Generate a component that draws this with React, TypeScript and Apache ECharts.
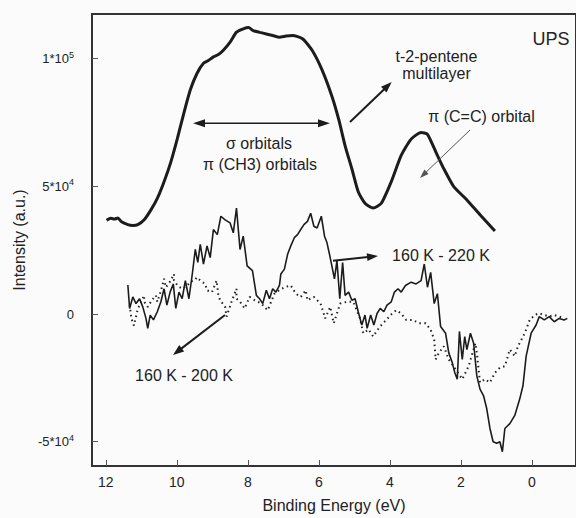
import React, { useEffect, useRef } from "react";
import * as echarts from "echarts";

// t-2-pentene multilayer (thick curve)
const multilayerE = [11.98, 11.86, 11.75, 11.66, 11.56, 11.38, 11.24, 11.10, 10.92, 10.73, 10.55, 10.36, 10.17, 9.99, 9.80, 9.62, 9.43, 9.25, 9.11, 8.97, 8.83, 8.69, 8.50, 8.32, 8.13, 7.98, 7.85, 7.66, 7.48, 7.30, 7.11, 6.92, 6.74, 6.46, 6.19, 5.91, 5.63, 5.44, 5.26, 5.07, 4.89, 4.70, 4.47, 4.24, 3.96, 3.68, 3.40, 3.12, 2.94, 2.66, 2.48, 2.20, 1.83, 1.46, 1.04];
const multilayerI = [36700, 37500, 37200, 37600, 36100, 35000, 34700, 35000, 36900, 40800, 45300, 51800, 59500, 68500, 78800, 87800, 94300, 98200, 99300, 100700, 101600, 103300, 106500, 110400, 111700, 112200, 111000, 110300, 109700, 109100, 108400, 108900, 109100, 107800, 103300, 95600, 85200, 76200, 65900, 56900, 47900, 43400, 41500, 43400, 51800, 62100, 68500, 71100, 70400, 62100, 56900, 49900, 44700, 38900, 32500];

// 160 K - 220 K difference (thin solid curve)
const diff220E = [11.38, 11.33, 11.24, 11.15, 11.05, 10.96, 10.87, 10.82, 10.75, 10.66, 10.55, 10.45, 10.36, 10.28, 10.19, 10.10, 10.03, 9.94, 9.85, 9.76, 9.66, 9.57, 9.48, 9.41, 9.34, 9.25, 9.15, 9.06, 8.97, 8.86, 8.76, 8.64, 8.50, 8.41, 8.32, 8.22, 8.13, 8.02, 7.87, 7.76, 7.67, 7.58, 7.48, 7.39, 7.30, 7.21, 7.11, 7.07, 6.97, 6.88, 6.79, 6.69, 6.60, 6.51, 6.42, 6.32, 6.23, 6.14, 6.05, 5.93, 5.84, 5.77, 5.68, 5.56, 5.49, 5.41, 5.33, 5.26, 5.16, 5.07, 4.98, 4.89, 4.79, 4.70, 4.64, 4.54, 4.45, 4.36, 4.27, 4.17, 4.08, 3.96, 3.87, 3.77, 3.68, 3.56, 3.40, 3.26, 3.12, 3.03, 2.94, 2.85, 2.75, 2.66, 2.57, 2.43, 2.34, 2.24, 2.17, 2.10, 2.04, 1.96, 1.89, 1.83, 1.73, 1.64, 1.55, 1.46, 1.36, 1.27, 1.18, 1.09, 0.99, 0.90, 0.83, 0.76, 0.62, 0.48, 0.34, 0.25, 0.16, 0.02, -0.12, -0.21, -0.35, -0.49, -0.63, -0.77, -0.91, -1.00];
const diff220I = [11400, 2200, 6700, 4100, 6000, 2800, -1700, -5600, -400, -2300, 900, 4800, 9900, 3500, 8600, 11800, 2200, 8600, 6000, 13100, 6000, 15100, 25300, 20200, 27300, 19600, 26700, 22100, 33100, 31100, 38300, 36900, 35700, 31800, 41500, 25300, 30500, 18900, 17000, 7300, 6000, 4100, 9300, 6000, 9900, 8600, 11200, 15700, 17600, 23400, 26700, 29900, 31100, 33100, 35000, 36300, 39500, 34400, 33700, 38300, 30500, 27900, 22100, 13800, 20900, 6000, 20200, 7300, 8600, 5400, 6000, 900, -4300, -400, -5600, -400, -4300, 200, 2200, 900, 3500, 4800, 8600, 9900, 8600, 11200, 12500, 11800, 13100, 19600, 10500, 16300, 4100, 8000, -4900, -7500, -15200, -19100, -23000, -25500, -6800, -17800, -8800, -13900, -7500, -11400, -24200, -29400, -32000, -37100, -44800, -50000, -50600, -50000, -53900, -44800, -42900, -39700, -33200, -28100, -16500, -7500, -4300, -1000, -2300, -1000, -3000, -1700, -2300, -1700];

// 160 K - 200 K difference (dotted curve)
const diff200E = [11.33, 11.28, 11.21, 11.10, 10.92, 10.92, 10.82, 10.70, 10.59, 10.55, 10.45, 10.36, 10.31, 10.20, 10.08, 10.08, 9.97, 9.85, 9.71, 9.60, 9.52, 9.43, 9.34, 9.20, 9.15, 9.01, 8.88, 8.83, 8.78, 8.64, 8.60, 8.46, 8.32, 8.32, 8.22, 8.09, 7.95, 7.81, 7.62, 7.44, 7.25, 7.10, 6.97, 6.79, 6.65, 6.51, 6.37, 6.32, 6.14, 5.95, 5.82, 5.68, 5.58, 5.40, 5.21, 5.03, 4.84, 4.75, 4.60, 4.47, 4.28, 4.10, 3.95, 3.82, 3.68, 3.54, 3.36, 3.17, 2.99, 2.85, 2.75, 2.71, 2.62, 2.48, 2.34, 2.15, 1.96, 1.78, 1.59, 1.55, 1.46, 1.32, 1.18, 1.04, 0.90, 0.76, 0.62, 0.48, 0.39, 0.20, 0.06, -0.08, -0.20, -0.35, -0.50, -0.63, -0.77, -0.91];
const diff200I = [3600, -1700, -4500, 2000, 7300, 4800, 2800, 5500, 7300, 4800, 9000, 13800, 10500, 12500, 15700, 13100, 11000, 9900, 11200, 12800, 13100, 14400, 13100, 11800, 9300, 8600, 13100, 7300, 5400, 2800, -1000, 4800, 9900, 6000, 4800, 2200, 6700, 5400, 4100, 1500, 8000, 9500, 10500, 11200, 8000, 6700, 9300, 5400, 6700, 4100, -1700, 2800, -3600, 4100, 4800, 4800, -1700, -7500, -6000, -8800, -4900, -2300, 0, 1500, 200, -2300, -2300, -3600, -3600, -6200, -10000, -17800, -15200, -12600, -17800, -21600, -25500, -20400, -11400, -15200, -26800, -25500, -26800, -23000, -21000, -20400, -13900, -16500, -12600, -7500, -2300, -400, 300, -400, -900, -400, -1000, -1700];

const yTicks: Record<string, string> = {
  "100000": "1*10{s|5}",
  "50000": "5*10{s|4}",
  "0": "0",
  "-50000": "-5*10{s|4}",
};

const FONT = '"Liberation Sans", Arial, Helvetica, sans-serif';
const INK = "#1c1c1c";

function zip(a: number[], b: number[]) {
  return a.map((v, i) => [v, b[i]]);
}

function arrow(x1: number, y1: number, x2: number, y2: number, w: number, color: string, hl: number, hw: number) {
  const dx = x2 - x1, dy = y2 - y1;
  const L = Math.hypot(dx, dy);
  const ux = dx / L, uy = dy / L;
  const bx = x2 - ux * hl, by = y2 - uy * hl;
  const px = -uy, py = ux;
  return [
    { type: "line", silent: true, z: 100, shape: { x1, y1, x2: bx + ux * 1, y2: by + uy * 1 }, style: { stroke: color, lineWidth: w } },
    {
      type: "polygon", silent: true, z: 100,
      shape: { points: [[x2, y2], [bx + (px * hw) / 2, by + (py * hw) / 2], [bx - (px * hw) / 2, by - (py * hw) / 2]] },
      style: { fill: color },
    },
  ];
}

function label(text: string, x: number, y: number, size: number) {
  return {
    type: "text", silent: true, z: 100,
    style: { text, x, y, textAlign: "center", textVerticalAlign: "middle", font: `${size}px ${FONT}`, fill: "#222" },
  };
}

export default function App() {
  const ref = useRef<HTMLDivElement>(null);
  useEffect(() => {
    if (!ref.current) return;
    const chart = echarts.init(ref.current, undefined, { renderer: "svg" });
    const dbl = [
      ...arrow(262, 123.3, 193, 123.3, 1.6, INK, 12, 8),
      ...arrow(262, 123.3, 330, 123.3, 1.6, INK, 12, 8),
    ];
    chart.setOption({
      animation: false,
      backgroundColor: "#fbfbfb",
      textStyle: { fontFamily: FONT },
      grid: { left: 92, top: 14, width: 490, height: 458, show: true, borderColor: "#333", borderWidth: 2, backgroundColor: "transparent" },
      xAxis: {
        type: "value", inverse: true, min: -1.244, max: 12.39,
        minInterval: 2, maxInterval: 2,
        name: "Binding Energy (eV)", nameLocation: "middle", nameGap: 31,
        nameTextStyle: { fontSize: 16, color: "#222", fontFamily: FONT },
        axisLine: { show: true, onZero: false, lineStyle: { color: "#333", width: 2 } },
        axisTick: { show: true, inside: true, length: 6, lineStyle: { color: "#555", width: 1 } },
        axisLabel: {
          fontSize: 14, color: "#222", margin: 9, showMinLabel: false, showMaxLabel: false,
          formatter: (v: number) => (Math.abs(v / 2 - Math.round(v / 2)) < 1e-6 ? String(Math.round(v)) : ""),
        },
        splitLine: { show: false },
      },
      yAxis: {
        type: "value", min: -59500, max: 117500,
        minInterval: 50000, maxInterval: 50000,
        name: "Intensity (a.u.)", nameLocation: "middle", nameGap: 62, nameRotate: 90,
        nameTextStyle: { fontSize: 16, color: "#222", fontFamily: FONT },
        axisLine: { show: true, onZero: false, lineStyle: { color: "#333", width: 2 } },
        axisTick: { show: true, inside: true, length: 6, lineStyle: { color: "#555", width: 1 } },
        axisLabel: {
          fontSize: 13, color: "#222", margin: 18, showMinLabel: false, showMaxLabel: false,
          formatter: (v: number) => yTicks[String(Math.round(v))] ?? "",
          rich: { s: { fontSize: 9, verticalAlign: "top", color: "#222", padding: [0, 0, 8, 0] } },
        },
        splitLine: { show: false },
      },
      series: [
        {
          type: "line", name: "t-2-pentene multilayer", data: zip(multilayerE, multilayerI),
          showSymbol: false, smooth: 0.2, lineStyle: { color: INK, width: 3 }, z: 5,
        },
        {
          type: "line", name: "160 K - 220 K", data: zip(diff220E, diff220I),
          showSymbol: false, lineStyle: { color: INK, width: 1.6 }, z: 4,
        },
        {
          type: "line", name: "160 K - 200 K", data: zip(diff200E, diff200I),
          showSymbol: false, lineStyle: { color: "#222", width: 2, type: [1.5, 3.5] }, z: 3,
        },
      ],
      graphic: [
        label("UPS", 551, 39, 18),
        label("t-2-pentene", 436.5, 56.5, 16),
        label("multilayer", 436.5, 73, 16),
        label("\u03c0 (C=C) orbital", 481.5, 116.5, 16),
        label("\u03c3 orbitals", 259, 143, 16),
        label("\u03c0 (CH3) orbitals", 260, 164.5, 16),
        label("160 K - 220 K", 441, 255, 16),
        label("160 K - 200 K", 184, 375.5, 16),
        ...arrow(350, 122, 391.7, 82, 2, INK, 11, 8),
        ...arrow(470, 130, 420, 178, 1, "#555", 9, 6),
        ...dbl,
        ...arrow(333, 260.7, 378, 256, 2, INK, 11, 8),
        ...arrow(225, 315, 173, 355, 2, INK, 11, 8),
      ],
    });
    return () => chart.dispose();
  }, []);
  return <div ref={ref} style={{ position: "fixed", left: 0, top: 0, width: 576, height: 518 }} />;
}
